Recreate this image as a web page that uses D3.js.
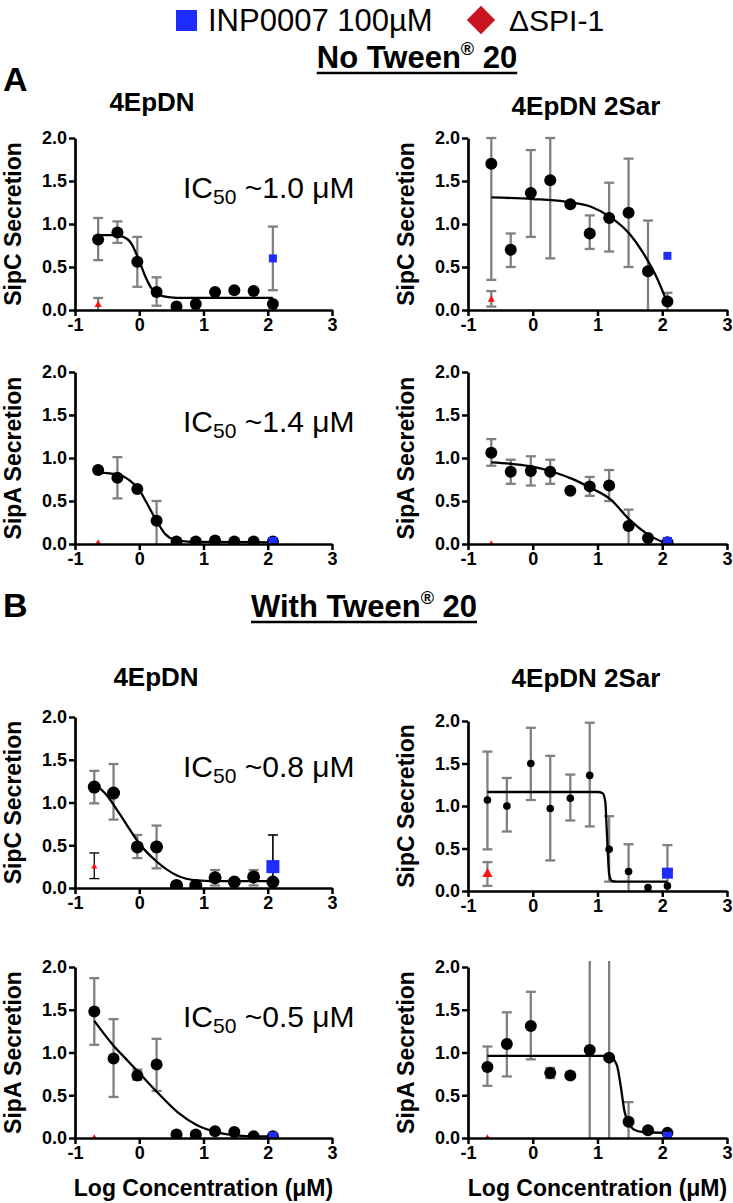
<!DOCTYPE html>
<html><head><meta charset="utf-8">
<script src="https://cdn.jsdelivr.net/npm/d3@7"></script>
<style>
body{margin:0;background:#fff}
text{font-family:"Liberation Sans",Arial,Helvetica,sans-serif}
</style>
</head><body>
<svg id="chart" width="733" height="1203"></svg>
<script>
// ---------------- DATA ----------------
const xDoseA = [-0.64,-0.34,-0.03,0.27,0.58,0.88,1.18,1.48,1.78,2.08];
const xDoseB = [-0.70,-0.40,-0.03,0.27,0.58,0.88,1.18,1.48,1.78,2.08];
const xInp = 2.08;
const xSpiA = -0.64;
const xSpiB = -0.70;
const xTicks = [-1,0,1,2,3];
const yTicks = [0,0.5,1,1.5,2];
const xTickLabels = ["-1","0","1","2","3"];
const yTickLabels = ["0.0","0.5","1.0","1.5","2.0"];

// A, no Tween, 4EpDN, SipC
const a1Mean = [0.82,0.90,0.56,0.21,0.04,0.07,0.21,0.23,0.22,0.07];
const a1Lo   = [0.58,0.78,0.27,0.05,null,null,null,null,null,null];
const a1Hi   = [1.07,1.03,0.85,0.38,null,null,null,null,null,null];
const a1Fit  = [[-0.64,0.87],[-0.4,0.87],[-0.25,0.85],[-0.12,0.77],[0,0.57],[0.1,0.38],[0.2,0.24],[0.3,0.18],[0.45,0.15],[0.7,0.14],[2.08,0.14]];
const a1Inp  = [0.60,0.23,0.97];
const a1Spi  = [0.06,-0.05,0.14];

// A, no Tween, 4EpDN 2Sar, SipC
const a2Mean = [1.70,0.70,1.36,1.51,1.23,0.89,1.07,1.13,0.45,0.10];
const a2Lo   = [0.35,0.50,0.85,0.60,null,0.71,0.68,0.50,-0.1,-0.1];
const a2Hi   = [2.00,0.89,1.86,2.00,null,1.10,1.48,1.76,1.04,0.20];
const a2Fit  = [[-0.64,1.31],[0,1.29],[0.5,1.26],[0.9,1.20],[1.2,1.08],[1.5,0.88],[1.7,0.67],[1.9,0.40],[2.08,0.08]];
const a2Inp  = [0.63,null,null];
const a2Spi  = [0.12,0.04,0.22];

// A, no Tween, 4EpDN, SipA
const a3Mean = [0.86,0.77,0.64,0.27,0.03,0.03,0.04,0.03,0.03,0.03];
const a3Lo   = [null,0.53,null,-0.05,null,null,null,null,null,null];
const a3Hi   = [null,1.01,null,0.50,null,null,null,null,null,null];
const a3Fit  = [[-0.64,0.83],[-0.34,0.81],[-0.15,0.74],[0,0.63],[0.1,0.50],[0.27,0.27],[0.4,0.12],[0.55,0.05],[0.8,0.025],[2.08,0.02]];
const a3Inp  = [0.03,null,null];
const a3Spi  = [0.02,null,null];

// A, no Tween, 4EpDN 2Sar, SipA
const a4Mean = [1.06,0.84,0.85,0.84,0.62,0.67,0.68,0.21,0.07,0.02];
const a4Lo   = [0.91,0.70,0.68,0.70,null,0.56,0.50,-0.05,null,null];
const a4Hi   = [1.22,0.98,1.02,0.98,null,0.78,0.86,0.40,null,null];
const a4Fit  = [[-0.64,0.95],[-0.3,0.93],[0,0.90],[0.3,0.84],[0.6,0.76],[0.9,0.65],[1.2,0.52],[1.5,0.28],[1.8,0.10],[2.08,0.0]];
const a4Inp  = [0.03,null,null];
const a4Spi  = [0.01,null,null];

// B, with Tween, 4EpDN, SipC
const b1Mean = [1.18,1.11,0.48,0.48,0.03,0.03,0.12,0.07,0.13,0.07];
const b1Lo   = [0.99,0.80,0.35,0.23,null,null,0.03,null,0.03,null];
const b1Hi   = [1.37,1.45,0.62,0.73,null,null,0.21,null,0.21,null];
const b1Fit  = [[-0.7,1.22],[-0.5,1.08],[-0.3,0.86],[-0.1,0.63],[0,0.52],[0.27,0.31],[0.58,0.15],[0.9,0.09],[1.3,0.08],[2.08,0.08]];
const b1Inp  = [0.25,-0.12,0.62];
const b1Spi  = [0.25,0.11,0.41];

// B, with Tween, 4EpDN 2Sar, SipC
const b2Mean = [1.07,1.00,1.50,0.97,1.09,1.36,0.49,0.23,0.04,0.06];
const b2Lo   = [0.49,0.70,1.07,0.36,0.83,0.76,0.11,-0.1,null,null];
const b2Hi   = [1.64,1.33,1.92,1.59,1.37,1.98,0.88,0.55,null,null];
const b2Fit  = [[-0.7,1.165],[1.0,1.165],[1.08,1.15],[1.12,1.05],[1.15,0.6],[1.18,0.2],[1.22,0.12],[1.3,0.11],[2.08,0.11]];
const b2Inp  = [0.21,-0.1,0.54];
const b2Spi  = [0.20,0.06,0.34];

// B, with Tween, 4EpDN, SipA
const b3Mean = [1.48,0.93,0.73,0.86,0.04,0.04,0.08,0.07,0.02,0.02];
const b3Lo   = [1.09,0.48,0.68,0.55,null,null,null,null,null,null];
const b3Hi   = [1.87,1.39,0.80,1.16,null,null,null,null,null,null];
const b3Fit  = [[-0.7,1.37],[-0.4,1.08],[-0.2,0.92],[0,0.76],[0.3,0.52],[0.6,0.30],[0.9,0.15],[1.2,0.07],[1.5,0.03],[1.8,0.02],[2.08,0.02]];
const b3Inp  = [0.02,null,null];
const b3Spi  = [0.01,null,null];

// B, with Tween, 4EpDN 2Sar, SipA
const b4Mean = [0.83,1.10,1.31,0.76,0.73,1.03,0.94,0.19,0.09,0.06];
const b4Lo   = [0.61,0.72,0.92,0.70,null,-0.5,-0.5,-0.1,null,null];
const b4Hi   = [1.07,1.47,1.71,0.82,null,2.5,2.5,0.42,null,null];
const b4Fit  = [[-0.7,0.96],[1.1,0.96],[1.2,0.95],[1.3,0.85],[1.36,0.6],[1.42,0.3],[1.48,0.18],[1.56,0.1],[1.7,0.07],[2.08,0.06]];
const b4Inp  = [0.02,null,null];
const b4Spi  = [0.01,null,null];

const ic50Labels = ["~1.0 μM","~1.4 μM","~0.8 μM","~0.5 μM"];

// ---------------- LAYOUT ----------------
const svg = d3.select("#chart");
const BLUE = "#1f2cff", RED = "#ff1010", DRED = "#c8141e", GREY = "#808080";

const panels = [
  {x0:75, x1:332, y0:310, y1:138, title:"SipC Secretion", x:xDoseA, m:a1Mean, lo:a1Lo, hi:a1Hi, fit:a1Fit, inp:a1Inp, spi:a1Spi, xs:xSpiA, r:6, sq:8, tri:7, ic:0},
  {x0:468,x1:727, y0:310, y1:138, title:"SipC Secretion", x:xDoseA, m:a2Mean, lo:a2Lo, hi:a2Hi, fit:a2Fit, inp:a2Inp, spi:a2Spi, xs:xSpiA, r:6, sq:8, tri:7},
  {x0:75, x1:332, y0:544, y1:372, title:"SipA Secretion", x:xDoseA, m:a3Mean, lo:a3Lo, hi:a3Hi, fit:a3Fit, inp:a3Inp, spi:a3Spi, xs:xSpiA, r:6, sq:9, tri:5, ic:1},
  {x0:468,x1:727, y0:544, y1:372, title:"SipA Secretion", x:xDoseA, m:a4Mean, lo:a4Lo, hi:a4Hi, fit:a4Fit, inp:a4Inp, spi:a4Spi, xs:xSpiA, r:6, sq:9, tri:5},
  {x0:75, x1:332, y0:888, y1:717, title:"SipC Secretion", x:xDoseB, m:b1Mean, lo:b1Lo, hi:b1Hi, fit:b1Fit, inp:b1Inp, spi:b1Spi, xs:xSpiB, r:6.5, sq:13, tri:6, ic:2, blackExtra:true},
  {x0:468,x1:727, y0:891, y1:721, title:"SipC Secretion", x:xDoseB, m:b2Mean, lo:b2Lo, hi:b2Hi, fit:b2Fit, inp:b2Inp, spi:b2Spi, xs:xSpiB, r:3.8, sq:11, tri:10},
  {x0:75, x1:332, y0:1138,y1:967, title:"SipA Secretion", x:xDoseB, m:b3Mean, lo:b3Lo, hi:b3Hi, fit:b3Fit, inp:b3Inp, spi:b3Spi, xs:xSpiB, r:6, sq:9, tri:5, ic:3, xlabel:true},
  {x0:468,x1:727, y0:1138,y1:967, title:"SipA Secretion", x:xDoseB, m:b4Mean, lo:b4Lo, hi:b4Hi, fit:b4Fit, inp:b4Inp, spi:b4Spi, xs:xSpiB, r:6, sq:9, tri:5, xlabel:true}
];

panels.forEach((p, i) => {
  const xS = d3.scaleLinear().domain([-1,3]).range([p.x0,p.x1]);
  const yS = d3.scaleLinear().domain([0,2]).range([p.y0,p.y1]);
  const g = svg.append("g");
  const clipId = "clip"+i;
  svg.append("clipPath").attr("id",clipId).append("rect")
    .attr("x",p.x0-20).attr("y",p.y1-6).attr("width",p.x1-p.x0+40).attr("height",p.y0-p.y1+6);
  const cg = g.append("g").attr("clip-path",`url(#${clipId})`);

  // error bars
  const bar = (x, m, lo, hi, color, w, cap) => {
    if (lo == null && hi == null) return;
    const px = xS(x);
    cg.append("line").attr("x1",px).attr("x2",px)
      .attr("y1",yS(hi!=null?hi:m)).attr("y2",yS(lo!=null?lo:m))
      .attr("stroke",color).attr("stroke-width",w);
    [lo,hi].forEach(v => { if (v!=null && v>=0 && v<=2.0001)
      cg.append("line").attr("x1",px-cap).attr("x2",px+cap).attr("y1",yS(v)).attr("y2",yS(v))
        .attr("stroke",color).attr("stroke-width",w); });
  };
  p.x.forEach((x,k) => bar(x, p.m[k], p.lo[k], p.hi[k], GREY, 2.3, 5));
  bar(xInp, p.inp[0], p.inp[1], p.inp[2], p.blackExtra?"#000":GREY, p.blackExtra?1.6:2.3, 5);
  bar(p.xs, p.spi[0], p.spi[1], p.spi[2], p.blackExtra?"#000":GREY, p.blackExtra?1.3:2.3, 5);

  // fit curve
  cg.append("path").datum(p.fit)
    .attr("d", d3.line().x(d=>xS(d[0])).y(d=>yS(d[1])).curve(d3.curveMonotoneX))
    .attr("fill","none").attr("stroke","#000").attr("stroke-width",2.3);

  // points
  cg.selectAll("circle.pt").data(p.x.map((x,k)=>[x,p.m[k]])).enter().append("circle")
    .attr("cx",d=>xS(d[0])).attr("cy",d=>yS(d[1])).attr("r",p.r).attr("fill","#000");

  // INP0007 square
  cg.append("rect").attr("x",xS(xInp)-p.sq/2).attr("y",yS(p.inp[0])-p.sq/2)
    .attr("width",p.sq).attr("height",p.sq).attr("fill",BLUE);
  // ΔSPI-1 triangle
  cg.append("path").attr("d",d3.symbol(d3.symbolTriangle, p.tri*p.tri*0.45)())
    .attr("transform",`translate(${xS(p.xs)},${yS(p.spi[0])})`).attr("fill",RED);

  // axes
  const xa = g.append("g").attr("transform",`translate(0,${p.y0})`)
    .call(d3.axisBottom(xS).tickValues(xTicks).tickFormat((d,k)=>xTickLabels[k]).tickSize(6).tickSizeOuter(0));
  const ya = g.append("g").attr("transform",`translate(${p.x0},0)`)
    .call(d3.axisLeft(yS).tickValues(yTicks).tickFormat((d,k)=>yTickLabels[k]).tickSize(6).tickSizeOuter(0));
  [xa,ya].forEach(a => {
    a.select(".domain").attr("stroke","#000").attr("stroke-width",2.7);
    a.selectAll(".tick line").attr("stroke","#000").attr("stroke-width",2.5);
    a.selectAll("text").attr("fill","#000").attr("font-size",18).attr("font-weight","bold")
      .style("font-family","'Liberation Sans',Arial,sans-serif");
  });
  xa.selectAll("text").attr("dy","0.71em").attr("y",8);
  ya.selectAll("text").attr("x",-8);

  // y title
  g.append("text").attr("transform",`translate(${p.x0-54},${(p.y0+p.y1)/2}) rotate(-90)`)
    .attr("text-anchor","middle").attr("font-size",23).attr("font-weight","bold").text(p.title);

  if (p.xlabel) {
    g.append("text").attr("x",(p.x0+p.x1)/2).attr("y",p.y0+58).attr("text-anchor","middle")
      .attr("font-size",23).attr("font-weight","bold").text("Log Concentration (μM)");
  }
  if (p.ic != null) {
    const t = g.append("text").attr("x",183).attr("y",p.y1+60).attr("font-size",30);
    t.append("tspan").text("IC");
    t.append("tspan").attr("font-size",21).attr("dy",6).text("50");
    t.append("tspan").attr("dy",-6).text(" " + ic50Labels[p.ic]);
  }
});

// ---------------- HEADINGS & LEGEND ----------------
svg.append("rect").attr("x",176).attr("y",10).attr("width",21).attr("height",21).attr("fill",BLUE);
svg.append("text").attr("x",208).attr("y",31).attr("font-size",31).text("INP0007 100µM");
svg.append("rect").attr("x",-10).attr("y",-10).attr("width",20).attr("height",20)
  .attr("transform","translate(481,20) rotate(45)").attr("fill",DRED);
svg.append("text").attr("x",509).attr("y",31).attr("font-size",30).text("ΔSPI-1");

const heading = (cx, y, label) => {
  const t = svg.append("text").attr("x",cx).attr("y",y).attr("text-anchor","middle")
    .attr("font-size",31).attr("font-weight","bold");
  t.append("tspan").text(label);
  t.append("tspan").attr("font-size",18).attr("dy",-13).text("®");
  t.append("tspan").attr("dy",13).text(" 20");
  const bb = t.node().getBBox();
  svg.append("line").attr("x1",bb.x).attr("x2",bb.x+bb.width).attr("y1",y+5).attr("y2",y+5)
    .attr("stroke","#000").attr("stroke-width",2.4);
};
heading(417, 68, "No Tween");
heading(364, 617, "With Tween");

svg.append("text").attr("x",3).attr("y",91).attr("font-size",34).attr("font-weight","bold").text("A");
svg.append("text").attr("x",3).attr("y",617).attr("font-size",34).attr("font-weight","bold").text("B");

svg.append("text").attr("x",152).attr("y",111).attr("text-anchor","middle").attr("font-size",26).attr("font-weight","bold").text("4EpDN");
svg.append("text").attr("x",586).attr("y",115).attr("text-anchor","middle").attr("font-size",26).attr("font-weight","bold").text("4EpDN 2Sar");
svg.append("text").attr("x",156).attr("y",686).attr("text-anchor","middle").attr("font-size",26).attr("font-weight","bold").text("4EpDN");
svg.append("text").attr("x",586).attr("y",687).attr("text-anchor","middle").attr("font-size",26).attr("font-weight","bold").text("4EpDN 2Sar");
</script>
</body></html>
